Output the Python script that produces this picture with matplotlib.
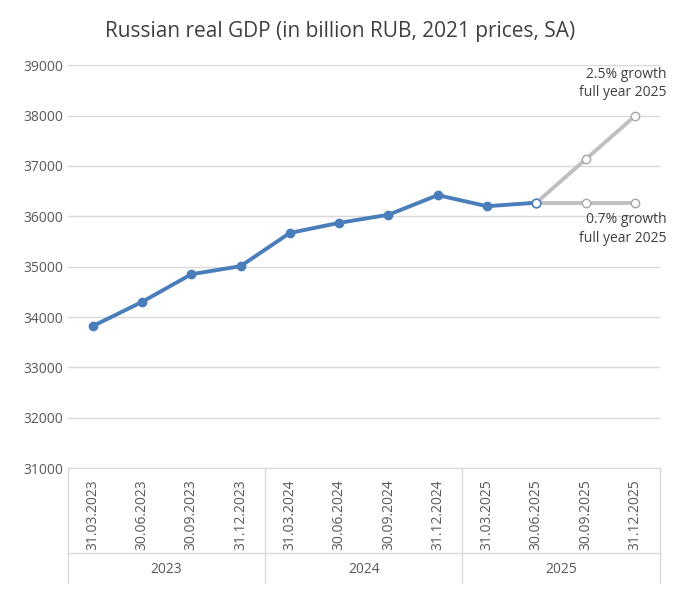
import numpy as np
import matplotlib.pyplot as plt

dates = ['31.03.2023', '30.06.2023', '30.09.2023', '31.12.2023',
         '31.03.2024', '30.06.2024', '30.09.2024', '31.12.2024',
         '31.03.2025', '30.06.2025', '30.09.2025', '31.12.2025']
years = ['2023', '2024', '2025']
gdp = [33820, 34300, 34850, 35010, 35670, 35870, 36030, 36420, 36200, 36270]
high = [36270, 37130, 37990]
flat = [36270, 36270, 36270]

plt.rcParams['font.family'] = 'Open Sans'
fig = plt.figure(figsize=(6.8, 5.92), dpi=100)
ax = fig.add_axes([0.1, 0.209, 0.87, 0.681])
x = np.arange(len(dates))

ax.plot(x[9:], flat, color='#bfbfbf', lw=2.8, marker='o', ms=6, mfc='white', mec='#a6a6a6', zorder=2)
ax.plot(x[9:], high, color='#bfbfbf', lw=2.8, marker='o', ms=6, mfc='white', mec='#a6a6a6', zorder=2)
ax.plot(x[:10], gdp, color='#4a7ebb', lw=2.8, marker='o', ms=6, zorder=3)
ax.plot(x[9], gdp[9], marker='o', ms=6, mfc='white', mec='#4a7ebb', zorder=4)

ax.set_xlim(-0.5, 11.5)
ax.set_ylim(31000, 39000)
ax.set_yticks(range(31000, 39001, 1000))
ax.grid(axis='y', color='#d9d9d9', lw=1)
ax.set_axisbelow(True)
for s in ['top', 'right', 'left']:
    ax.spines[s].set_visible(False)
ax.spines['bottom'].set_color('#d9d9d9')
ax.tick_params(axis='y', length=0, labelsize=10, colors='#595959')
ax.set_xticks(x)
ax.set_xticklabels(dates, rotation=90, fontsize=10, color='#595959')
ax.tick_params(axis='x', length=0, pad=8)

# group separators and year labels below the axis
trans = ax.get_xaxis_transform()
for b in [-0.5, 3.5, 7.5, 11.5]:
    ax.plot([b, b], [0, -0.285], transform=trans, color='#d9d9d9', lw=1, clip_on=False)
ax.plot([-0.5, 11.5], [-0.21, -0.21], transform=trans, color='#d9d9d9', lw=1, clip_on=False)
for i, yr in enumerate(years):
    ax.text(4 * i + 1.5, -0.25, yr, transform=trans, ha='center', va='center',
            fontsize=10, color='#595959')

ax.text(11.65, 38300, '2.5% growth\nfull year 2025', ha='right', va='bottom', fontsize=10,
        color='#404040', linespacing=1.3)
ax.text(11.65, 36080, '0.7% growth\nfull year 2025', ha='right', va='top', fontsize=10,
        color='#404040', linespacing=1.3)

fig.suptitle('Russian real GDP (in billion RUB, 2021 prices, SA)', y=0.965, fontsize=15,
             color='#404040')
fig.savefig('out.png', dpi=100)
